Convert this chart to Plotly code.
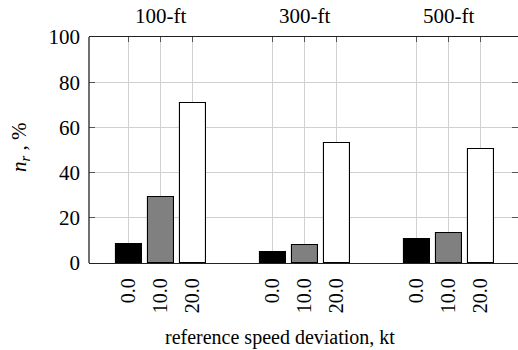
import plotly.graph_objects as go

# Altitude groups and reference speed deviations (kt)
groups = ["100-ft", "300-ft", "500-ft"]
deviations = ["0.0", "10.0", "20.0"]

# n_r (%) for each deviation, one value per altitude group
nr_dev0 = [8.4, 4.7, 10.6]
nr_dev10 = [29.1, 8.1, 13.2]
nr_dev20 = [70.7, 53.0, 50.3]

series = [nr_dev0, nr_dev10, nr_dev20]
fills = ["#000000", "#808080", "#ffffff"]

offset = 0.2222   # spacing between bars inside a group (group units)
bar_w = 0.182

FONT = "Liberation Serif"

fig = go.Figure()
tickvals, ticktext = [], []
for k, (vals, col) in enumerate(zip(series, fills)):
    xs = [g + (k - 1) * offset for g in range(len(groups))]
    fig.add_trace(go.Bar(
        x=xs, y=vals, width=bar_w,
        marker=dict(color=col, line=dict(color="#000000", width=1.1)),
        name=deviations[k], showlegend=False,
    ))
    for x in xs:
        tickvals.append(x)
        ticktext.append(deviations[k])

order = sorted(range(len(tickvals)), key=lambda i: tickvals[i])
tickvals = [tickvals[i] for i in order]
ticktext = [ticktext[i] for i in order]

fig.update_layout(
    width=518, height=350,
    margin=dict(l=89, r=0, t=37, b=87),
    plot_bgcolor="white", paper_bgcolor="white",
    font=dict(family=FONT, size=21, color="#000000"),
    bargap=0,
    xaxis=dict(
        range=[-0.5, 2.48],
        tickmode="array", tickvals=tickvals, ticktext=ticktext,
        tickangle=-90,
        ticks="inside", ticklen=5, tickcolor="#555555", tickwidth=1,
        showline=True, linecolor="#222222", linewidth=1.3, mirror="ticks",
        showgrid=True, gridcolor="#d0d0d0", gridwidth=1,
        zeroline=False, layer="below traces",
        ticklabelstandoff=6,
        tickfont=dict(family=FONT, size=20, color="#000000"),
    ),
    yaxis=dict(
        range=[0, 100],
        tickvals=[0, 20, 40, 60, 80, 100],
        ticks="inside", ticklen=6, tickcolor="#555555", tickwidth=1,
        showline=False, mirror="ticks",
        showgrid=True, gridcolor="#d0d0d0", gridwidth=1,
        zeroline=False,
        ticklabelstandoff=8,
        tickfont=dict(family=FONT, size=21, color="#000000"),
    ),
)

# left frame edge
fig.add_shape(type="line", xref="paper", yref="paper", x0=0, x1=0, y0=0, y1=1,
              line=dict(color="#222222", width=1.3))

# group labels above the frame
for g, name in enumerate(groups):
    fig.add_annotation(x=g, y=1, xref="x", yref="paper", text=name,
                       showarrow=False, yanchor="bottom", yshift=7,
                       font=dict(family=FONT, size=21, color="#000000"))

# axis titles
fig.add_annotation(x=0, y=0.5, xref="paper", yref="paper",
                   text="<i>n</i><sub><i>r</i></sub> , %", textangle=-90,
                   showarrow=False, xanchor="center", yanchor="middle", xshift=-69,
                   yshift=2,
                   font=dict(family=FONT, size=21, color="#000000"))
fig.add_annotation(x=0, y=0, xref="paper", yref="paper",
                   text="reference speed deviation, kt",
                   showarrow=False, xanchor="center", yanchor="middle",
                   xshift=191, yshift=-74,
                   font=dict(family=FONT, size=20, color="#000000"))

fig.write_html("out.html")
